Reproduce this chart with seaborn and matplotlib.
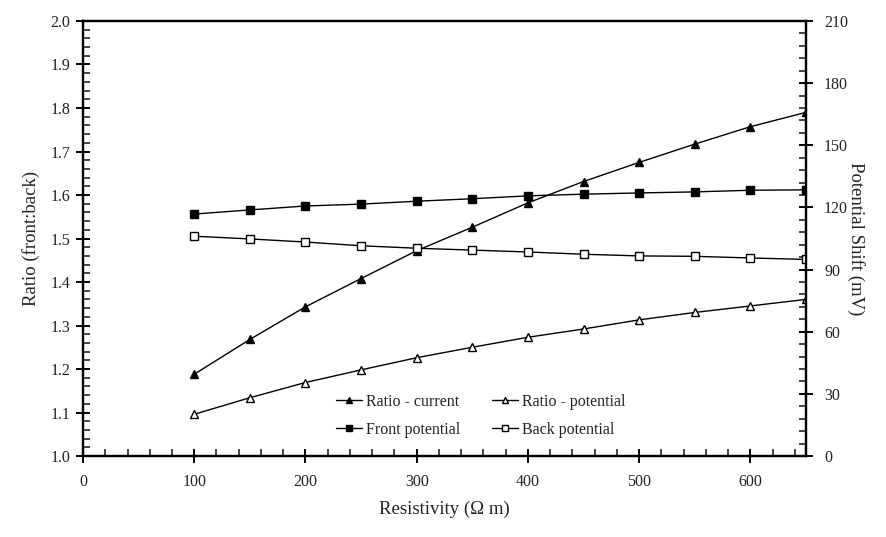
import matplotlib
matplotlib.use("Agg")
import matplotlib.pyplot as plt
from matplotlib.ticker import MultipleLocator
import seaborn as sns
import pandas as pd

# Resistivity (Ohm m)
resistivity = [100, 150, 200, 250, 300, 350, 400, 450, 500, 550, 600, 650]

# Front:back ratios (left axis)
ratio_current = [1.188, 1.268, 1.343, 1.408, 1.472, 1.526, 1.582, 1.631, 1.675, 1.717, 1.757, 1.790]
ratio_potential = [1.096, 1.134, 1.169, 1.198, 1.226, 1.250, 1.273, 1.292, 1.313, 1.330, 1.345, 1.360]

# Potential shifts in mV (right axis)
front_potential = [116.8, 118.8, 120.7, 121.6, 123.0, 124.2, 125.6, 126.4, 127.0, 127.5, 128.3, 128.5]
back_potential = [106.1, 104.8, 103.3, 101.5, 100.3, 99.4, 98.5, 97.4, 96.6, 96.4, 95.6, 94.9]

sns.set_style("white")
plt.rcParams["font.family"] = ["Liberation Serif", "DejaVu Serif"]
plt.rcParams["mathtext.fontset"] = "stix"

df = pd.DataFrame({
    "res": resistivity,
    "rc": ratio_current,
    "rp": ratio_potential,
    "fp": front_potential,
    "bp": back_potential,
})

fig = plt.figure(figsize=(8.86, 5.37), dpi=100)
ax = fig.add_axes([0.0937, 0.1508, 0.8160, 0.8101])
ax2 = ax.twinx()

text_color = "#222222"
line_kw = dict(color="black", linewidth=1.0, markeredgecolor="black", markeredgewidth=1.0)

sns.lineplot(data=df, x="res", y="rc", ax=ax, marker="^", markersize=5.5,
             markerfacecolor="black", label="Ratio - current", **line_kw)
sns.lineplot(data=df, x="res", y="rp", ax=ax, marker="^", markersize=5.5,
             markerfacecolor="white", label="Ratio - potential", **line_kw)
sns.lineplot(data=df, x="res", y="fp", ax=ax2, marker="s", markersize=6,
             markerfacecolor="black", label="Front potential", **line_kw)
sns.lineplot(data=df, x="res", y="bp", ax=ax2, marker="s", markersize=5.5,
             markerfacecolor="white", label="Back potential", **line_kw)

ax.set_xlim(0, 650)
ax.set_ylim(1.0, 2.0)
ax2.set_ylim(0, 210)

ax.xaxis.set_major_locator(MultipleLocator(100))
ax.xaxis.set_minor_locator(MultipleLocator(20))
ax.yaxis.set_major_locator(MultipleLocator(0.1))
ax.yaxis.set_minor_locator(MultipleLocator(0.02))
ax2.yaxis.set_major_locator(MultipleLocator(30))
ax2.yaxis.set_minor_locator(MultipleLocator(6))
ax.yaxis.set_major_formatter(matplotlib.ticker.FormatStrFormatter("%.1f"))

for a in (ax, ax2):
    for sp in a.spines.values():
        sp.set_color("black")
        sp.set_linewidth(1.6)

ax.tick_params(axis="both", which="major", direction="inout", length=10, width=1.4,
               labelsize=11.5, pad=4, color="black", labelcolor=text_color,
               bottom=True, left=True, top=False, right=False)
ax.tick_params(axis="both", which="minor", direction="in", length=5, width=1.2,
               bottom=True, left=True, top=False, right=False)
ax.tick_params(axis="x", which="major", pad=8)
ax2.tick_params(axis="y", which="major", direction="inout", length=10, width=1.4,
                labelsize=11.5, pad=8, color="black", labelcolor=text_color, right=True)
ax2.tick_params(axis="y", which="minor", direction="in", length=5, width=1.2, right=True)

ax.set_xlabel("Resistivity (\u03a9 m)", fontsize=13.5, labelpad=8, color=text_color)
ax.set_ylabel("Ratio (front:back)", fontsize=13.5, labelpad=8, color=text_color)
ax2.set_ylabel("Potential Shift (mV)", fontsize=13.5, rotation=270, labelpad=12,
               color=text_color)

h1, l1 = ax.get_legend_handles_labels()
h2, l2 = ax2.get_legend_handles_labels()
if ax.get_legend() is not None:
    ax.get_legend().remove()
if ax2.get_legend() is not None:
    ax2.get_legend().remove()
handles = [h1[0], h2[0], h1[1], h2[1]]
labels = [l1[0], l2[0], l1[1], l2[1]]
leg = ax2.legend(handles, labels, ncol=2, frameon=False, loc="center",
                 bbox_to_anchor=(0.55, 0.092), fontsize=11.5, handlelength=1.6,
                 handletextpad=0.25, columnspacing=2.0, labelspacing=0.75, markerscale=0.8)
for t in leg.get_texts():
    t.set_color(text_color)

fig.savefig("out.png", dpi=100)
